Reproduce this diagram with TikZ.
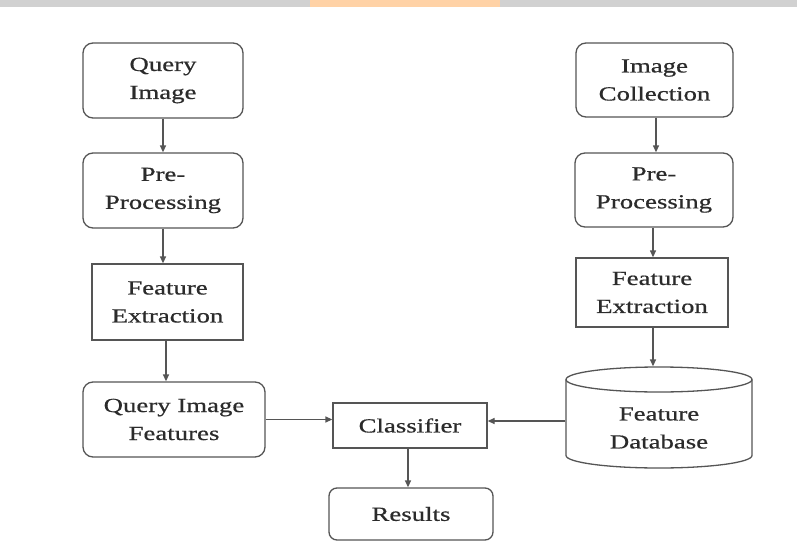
\documentclass[tikz,border=0pt]{standalone}
\usepackage{fontspec}
\setmainfont{Liberation Serif}[FakeStretch=1.34, FakeBold=0.6]
\usetikzlibrary{arrows.meta}
\definecolor{ln}{HTML}{555555}
\definecolor{tx}{HTML}{2b2b2b}
\tikzset{
  base/.style={draw=ln, line width=1.3pt, text=tx, align=center, inner sep=0pt,
    font=\fontsize{20pt}{28pt}\selectfont},
  rbox/.style={base, rounded corners=10pt},
  sbox/.style={base},
  arr/.style={draw=ln, line width=1.3pt, -{Triangle[length=7pt,width=6pt]}},
}
\begin{document}
\begin{tikzpicture}[x=1pt,y=1pt]
\useasboundingbox (0,0) rectangle (797,542);
\fill[white] (0,0) rectangle (797,542);
% faint top strip (watermark band)
\fill[black!18] (0,535) rectangle (797,542);
\fill[orange!35] (310,535) rectangle (500,542);
% left column
\node[rbox, minimum width=160pt, minimum height=75pt] (qi) at (163,461.5) {Query\\Image};
\node[rbox, minimum width=160pt, minimum height=75pt] (pl) at (163,351.5) {Pre-\\Processing};
\node[sbox, minimum width=151pt, minimum height=76pt] (fl) at (167.5,240) {Feature\\Extraction};
\node[rbox, minimum width=182pt, minimum height=75pt] (qf) at (174,122.5) {Query Image\\Features};
% middle
\node[sbox, minimum width=154pt, minimum height=45pt] (cls) at (410,116.5) {Classifier};
\node[rbox, rounded corners=8pt, minimum width=164pt, minimum height=52pt] (res) at (411,28) {Results};
% right column
\node[rbox, minimum width=157pt, minimum height=74pt] (ic) at (654.5,462) {Image\\Collection};
\node[rbox, minimum width=158pt, minimum height=74pt] (pr) at (654,352) {Pre-\\Processing};
\node[sbox, minimum width=152pt, minimum height=69pt] (fr) at (652,249.5) {Feature\\Extraction};
% database cylinder
\node[base, draw=none, minimum width=186pt, minimum height=101pt] (db) at (659,124.5) {};
\draw[ln, line width=1.3pt] (659,162.5) ellipse [x radius=93pt, y radius=12.5pt];
\draw[ln, line width=1.3pt] (566,162.5) -- (566,86.5)
  arc[start angle=180, end angle=360, x radius=93pt, y radius=12.5pt] -- (752,162.5);
\node[base, draw=none] at (659,114) {Feature\\Database};
% connectors
\draw[arr] (qi.south) -- (pl.north);
\draw[arr] (pl.south) -- (pl.south |- fl.north);
\draw[arr] (fl.south -| 166,0) -- (166,0 |- qf.north);
\draw[arr] (qf.east) -- (qf.east -| cls.west);
\draw[arr] (db.west |- 0,121) -- (cls.east |- 0,121);
\draw[arr] (cls.south -| 408,0) -- (408,0 |- res.north);
\draw[arr] (ic.south -| 656,0) -- (656,0 |- pr.north);
\draw[arr] (pr.south -| 653,0) -- (653,0 |- fr.north);
\draw[arr] (fr.south -| 653,0) -- (653,0 |- db.north);
\end{tikzpicture}
\end{document}
